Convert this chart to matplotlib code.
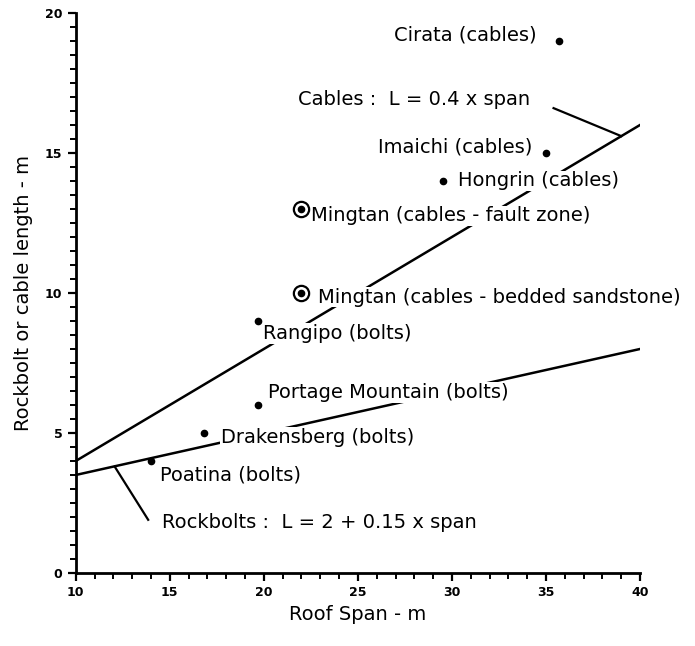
import numpy as np
import matplotlib
matplotlib.use("Agg")
import matplotlib.pyplot as plt
from matplotlib.ticker import MultipleLocator

# design lines (end points of each rule)
span_ends = [10, 40]
cable_len = [0.4 * s for s in span_ends]
bolt_len = [2 + 0.15 * s for s in span_ends]

# case histories
sites = ["Cirata (cables)", "Imaichi (cables)", "Hongrin (cables)",
         "Mingtan (cables - fault zone)", "Mingtan (cables - bedded sandstone)",
         "Rangipo (bolts)", "Portage Mountain (bolts)", "Drakensberg (bolts)",
         "Poatina (bolts)"]
site_span = [35.7, 35.0, 29.5, 22.0, 22.0, 19.7, 19.7, 16.8, 14.0]
site_len = [19.0, 15.0, 14.0, 13.0, 10.0, 9.0, 6.0, 5.0, 4.0]
circled = [False, False, False, True, True, False, False, False, False]

# label anchors (x, y, ha)
label_pos = [(34.5, 19.2, "right"), (34.3, 15.2, "right"), (30.3, 14.0, "left"),
             (22.5, 12.75, "left"), (22.9, 9.85, "left"), (19.95, 8.55, "left"),
             (20.2, 6.45, "left"), (17.7, 4.85, "left"), (14.5, 3.5, "left")]

fig = plt.figure(figsize=(6.95, 6.46), dpi=100)
ax = fig.add_axes([0.109, 0.113, 0.812, 0.867])

ax.plot(span_ends, cable_len, color="black", lw=1.8, zorder=1)
ax.plot(span_ends, bolt_len, color="black", lw=1.8, zorder=1)

for x, y, c in zip(site_span, site_len, circled):
    ax.plot(x, y, "o", color="black", ms=4.5, zorder=4)
    if c:
        ax.plot(x, y, "o", mfc="none", mec="black", ms=11, mew=1.6, zorder=4)

box = dict(facecolor="white", edgecolor="none", pad=0.5)
for name, (tx, ty, ha) in zip(sites, label_pos):
    ax.text(tx, ty, name, ha=ha, va="center", fontsize=14, bbox=box, zorder=3)

# design rule labels with leaders
ax.text(21.8, 16.9, "Cables :  L = 0.4 x span", ha="left", va="center",
        fontsize=14, bbox=box, zorder=3)
ax.plot([35.4, 39.0], [16.6, 15.6], color="black", lw=1.6, zorder=2)
ax.text(14.6, 1.82, "Rockbolts :  L = 2 + 0.15 x span", ha="left", va="center",
        fontsize=14, bbox=box, zorder=3)
ax.plot([12.07, 13.85], [3.8, 1.9], color="black", lw=1.6, zorder=2)

ax.set_xlim(10, 40)
ax.set_ylim(0, 20)
ax.xaxis.set_major_locator(MultipleLocator(5))
ax.xaxis.set_minor_locator(MultipleLocator(1))
ax.yaxis.set_major_locator(MultipleLocator(5))
ax.yaxis.set_minor_locator(MultipleLocator(0.5))
ax.tick_params(which="major", length=6, width=1.6, labelsize=9, direction="out")
ax.tick_params(which="minor", length=4, width=1.4, direction="out")
for lab in ax.get_xticklabels() + ax.get_yticklabels():
    lab.set_fontweight("bold")
for s in ["top", "right"]:
    ax.spines[s].set_visible(False)
for s in ["left", "bottom"]:
    ax.spines[s].set_linewidth(2)

ax.set_xlabel("Roof Span - m", fontsize=14, labelpad=4)
ax.set_ylabel("Rockbolt or cable length - m", fontsize=14, labelpad=9)

plt.savefig("out.png", dpi=100)
plt.close()
